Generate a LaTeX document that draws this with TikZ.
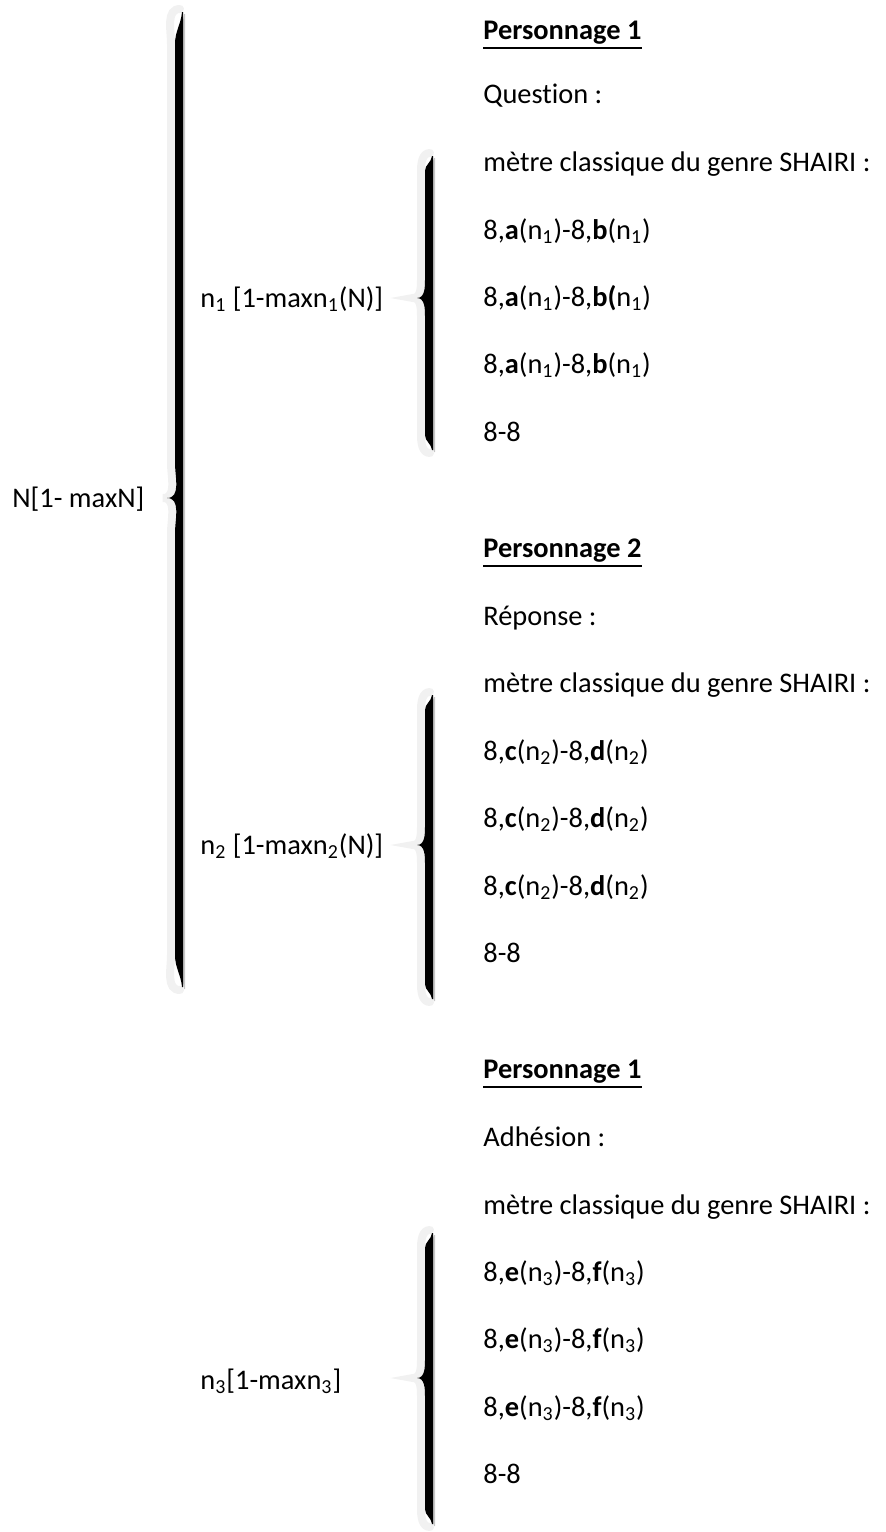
\documentclass[tikz,border=0pt]{standalone}
\usepackage{fontspec}
\setmainfont{Carlito}[Ligatures=NoCommon]
\usetikzlibrary{positioning}
% accolade: right edge, top, tip, bottom, hook
\newcommand{\accol}[5]{%
  \fill[gray!45, shift={(2,2)}] (#1-1,#2+3) to[out=-95,in=90] (#1-8,#2+#5) -- (#1-8,#3-#5)
     to[out=-90,in=0] (#1-16,#3) to[out=0,in=90] (#1-8,#3+#5) -- (#1-8,#4-#5)
     to[out=-90,in=95] (#1-1,#4-3) -- (#1,#4-3) -- (#1,#2+3) -- cycle;
  \draw[gray!11, line width=4pt, line cap=round] (#1-3,#2) to[out=180,in=90] (#1-12,#2+#5) -- (#1-12,#3-#5)
     to[out=-90,in=0] (#1-20,#3) to[out=0,in=90] (#1-12,#3+#5) -- (#1-12,#4-#5)
     to[out=-90,in=180] (#1-3,#4);
  \fill[black] (#1-1,#2+3) to[out=-95,in=90] (#1-8,#2+#5) -- (#1-8,#3-#5)
     to[out=-90,in=0] (#1-16,#3) to[out=0,in=90] (#1-8,#3+#5) -- (#1-8,#4-#5)
     to[out=-90,in=95] (#1-1,#4-3) -- (#1,#4-3) -- (#1,#2+3) -- cycle;
}
\newcommand{\nsub}[1]{n\textsubscript{#1}}
\begin{document}
\begin{tikzpicture}[x=0.5pt, y=-0.5pt, font=\fontsize{14.2pt}{17pt}\selectfont,
    txt/.style={anchor=base west, inner sep=0pt},
    uline/.style={line width=0.9pt}]
  \useasboundingbox (0,0) rectangle (886,1532);
  % accolades
  \accol{183}{9}{498}{990}{35}
  \accol{433}{153}{298}{453}{18}
  \accol{433}{692}{845}{1002}{18}
  \accol{433}{1230}{1378}{1527}{18}
  % niveaux
  \node[txt] (N) at (12,507) {N[1- maxN]};
  \node[txt] (n1) at (200,307) {\nsub{1} [1-max\nsub{1}(N)]};
  \node[txt] (n2) at (200,854) {\nsub{2} [1-max\nsub{2}(N)]};
  \node[txt] (n3) at (200,1389) {\nsub{3}[1-max\nsub{3}]};
  % personnage 1 : question
  \node[txt] (p1) at (483,39) {\textbf{Personnage 1}};
  \node[txt] (q) at (483,103) {Question :};
  \node[txt] (m1) at (483,171) {mètre classique du genre SHAIRI :};
  \node[txt] (a1) at (483,239) {8,\textbf{a}(\nsub{1})-8,\textbf{b}(\nsub{1})};
  \node[txt] (a2) at (483,306) {8,\textbf{a}(\nsub{1})-8,\textbf{b(}\nsub{1})};
  \node[txt] (a3) at (483,373) {8,\textbf{a}(\nsub{1})-8,\textbf{b}(\nsub{1})};
  \node[txt] (e1) at (483,441) {8-8};
  % personnage 2 : reponse
  \node[txt] (p2) at (483,557) {\textbf{Personnage 2}};
  \node[txt] (r) at (483,625) {Réponse :};
  \node[txt] (m2) at (483,692) {mètre classique du genre SHAIRI :};
  \node[txt] (c1) at (483,760) {8,\textbf{c}(\nsub{2})-8,\textbf{d}(\nsub{2})};
  \node[txt] (c2) at (483,827) {8,\textbf{c}(\nsub{2})-8,\textbf{d}(\nsub{2})};
  \node[txt] (c3) at (483,895) {8,\textbf{c}(\nsub{2})-8,\textbf{d}(\nsub{2})};
  \node[txt] (e2) at (483,962) {8-8};
  % personnage 1 : adhesion
  \node[txt] (p3) at (483,1078) {\textbf{Personnage 1}};
  \node[txt] (ad) at (483,1146) {Adhésion :};
  \node[txt] (m3) at (483,1214) {mètre classique du genre SHAIRI :};
  \node[txt] (f1) at (483,1281) {8,\textbf{e}(\nsub{3})-8,\textbf{f}(\nsub{3})};
  \node[txt] (f2) at (483,1348) {8,\textbf{e}(\nsub{3})-8,\textbf{f}(\nsub{3})};
  \node[txt] (f3) at (483,1416) {8,\textbf{e}(\nsub{3})-8,\textbf{f}(\nsub{3})};
  \node[txt] (e3) at (483,1483) {8-8};
  % soulignements
  \draw[uline] ([yshift=-2pt]p1.south west) -- ([yshift=-2pt]p1.south east);
  \draw[uline] ([yshift=-2pt]p2.south west) -- ([yshift=-2pt]p2.south east);
  \draw[uline] ([yshift=-2pt]p3.south west) -- ([yshift=-2pt]p3.south east);
\end{tikzpicture}
\end{document}
